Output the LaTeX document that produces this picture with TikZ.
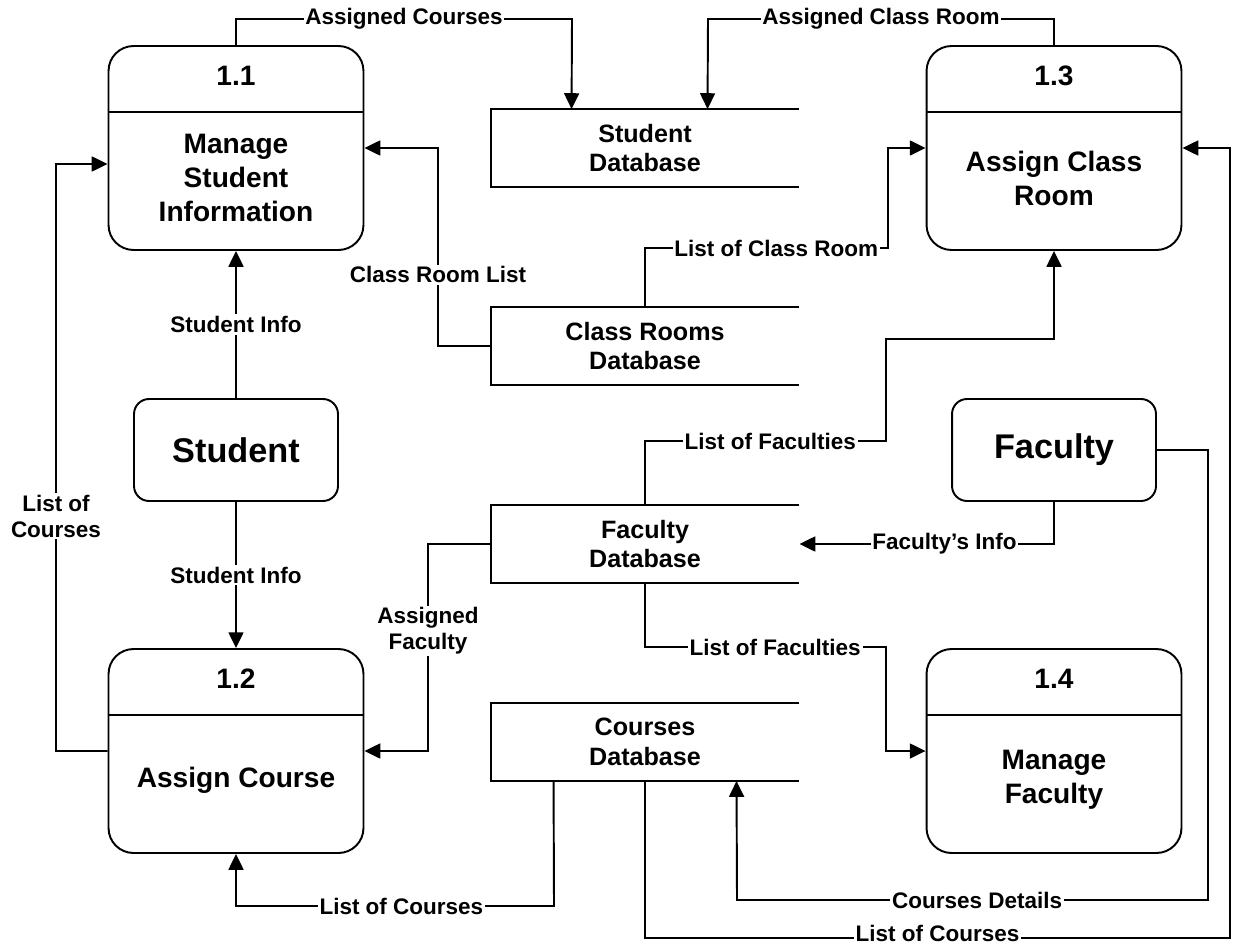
\documentclass[tikz,border=0pt]{standalone}
\usepackage{fontspec}
\setmainfont{Liberation Sans}
\usetikzlibrary{arrows.meta}

\begin{document}
\begin{tikzpicture}[x=0.02cm,y=-0.02cm,line width=1.1pt,
	proc/.style ={rectangle, draw, rounded corners=0.5cm, minimum width=5.1cm, minimum height=4.08cm},
	ptext/.style ={align=center, font=\bfseries\fontsize{16}{19.3}\selectfont},
	ent/.style ={rectangle, draw, rounded corners=0.3cm, minimum width=4.08cm, minimum height=2.04cm, font=\bfseries\fontsize{19.5}{23}\selectfont},
	store/.style ={rectangle, minimum width=6.14cm, minimum height=1.52cm, align=center, font=\bfseries\fontsize{14.3}{17}\selectfont},
	lbl/.style ={fill=white, inner sep=1pt, align=center, font=\bfseries\fontsize{12.8}{15}\selectfont},
	flow/.style ={-{Triangle[length=9pt,width=8.5pt]}}]
	\useasboundingbox (0,0) rectangle (1236,946);
	% processes
	\node[proc] (p11) at (236,148) {};
	\node[proc] (p12) at (236,751) {};
	\node[proc] (p13) at (1054,148) {};
	\node[proc] (p14) at (1054,751) {};
	\foreach \p in {p11,p12,p13,p14}
		\draw ([yshift=-1.34cm]\p.north west) -- ([yshift=-1.34cm]\p.north east);
	\node[ptext] (n11) at (236,76) {1.1};
	\node[ptext] (n12) at (236,679) {1.2};
	\node[ptext] (n13) at (1054,76) {1.3};
	\node[ptext] (n14) at (1054,679) {1.4};
	\node[ptext] (t11) at (236,178) {Manage\\Student\\Information};
	\node[ptext] (t12) at (236,780) {Assign Course};
	\node[ptext] (t13) at (1054,178) {Assign Class\\Room};
	\node[ptext] (t14) at (1054,780) {Manage\\Faculty};
	% entities
	\node[ent] (stu) at (236,450) {Student};
	\node[ent] (fac) at (1054,450) {Faculty};
	% data stores
	\node[store] (sdb) at (645,148) {Student\\Database};
	\node[store] (crdb) at (645,346) {Class Rooms\\Database};
	\node[store] (fdb) at (645,544) {Faculty\\Database};
	\node[store] (cdb) at (645,742) {Courses\\Database};
	\foreach \s in {sdb,crdb,fdb,cdb}
		\draw (\s.north east) -- (\s.north west) -- (\s.south west) -- (\s.south east);
	% flows
	\draw[flow] (p11.north) -- (236,19) -- node[lbl]{Assigned Courses} (572,19) -- ([xshift=1.62cm]sdb.north west);
	\draw[flow] (p13.north) -- (1054,19) -- node[lbl]{Assigned Class Room} (708,19) -- ([xshift=4.34cm]sdb.north west);
	\draw[flow] (crdb.west) -- (438,346) -- node[lbl,pos=0.36]{Class Room List} (438,148) -- (p11.east);
	\draw[flow] (crdb.north) -- (645,248) -- node[lbl,pos=0.54]{List of Class Room} (888,248) -- (888,148) -- (p13.west);
	\draw[flow] (stu.north) -- node[lbl]{Student Info} (p11.south);
	\draw[flow] (stu.south) -- node[lbl]{Student Info} (p12.north);
	\draw[flow] (p12.west) -- (56,751) -- node[lbl,pos=0.4]{List of\\Courses} (56,164) -- ([yshift=-0.32cm]p11.west);
	\draw[flow] (fdb.west) -- (428,544) -- node[lbl,pos=0.42]{Assigned\\Faculty} (428,751) -- (p12.east);
	\draw[flow] (fdb.north) -- (645,441) -- node[lbl,pos=0.52]{List of Faculties} (886,441) -- (886,339) -- (1054,339) -- (p13.south);
	\draw[flow] (fac.south) -- (1054,544) -- node[lbl,pos=0.43]{Faculty's Info} (fdb.east);
	\draw[flow] (fdb.south) -- (645,647) -- node[lbl,pos=0.54]{List of Faculties} (886,647) -- (886,751) -- (p14.west);
	\draw[flow] ([xshift=1.26cm]cdb.south west) -- (554,906) -- node[lbl,pos=0.48]{List of Courses} (236,906) -- (p12.south);
	\draw[flow] (fac.east) -- (1208,450) -- (1208,900) -- node[lbl,pos=0.49]{Courses Details} (737,900) -- ([xshift=4.92cm]cdb.south west);
	\draw[flow] (cdb.south) -- (645,938) -- node[lbl,inner ysep=0pt,yshift=0.1cm]{List of Courses} (1230,938) -- (1230,148) -- (p13.east);
\end{tikzpicture}
\end{document}
